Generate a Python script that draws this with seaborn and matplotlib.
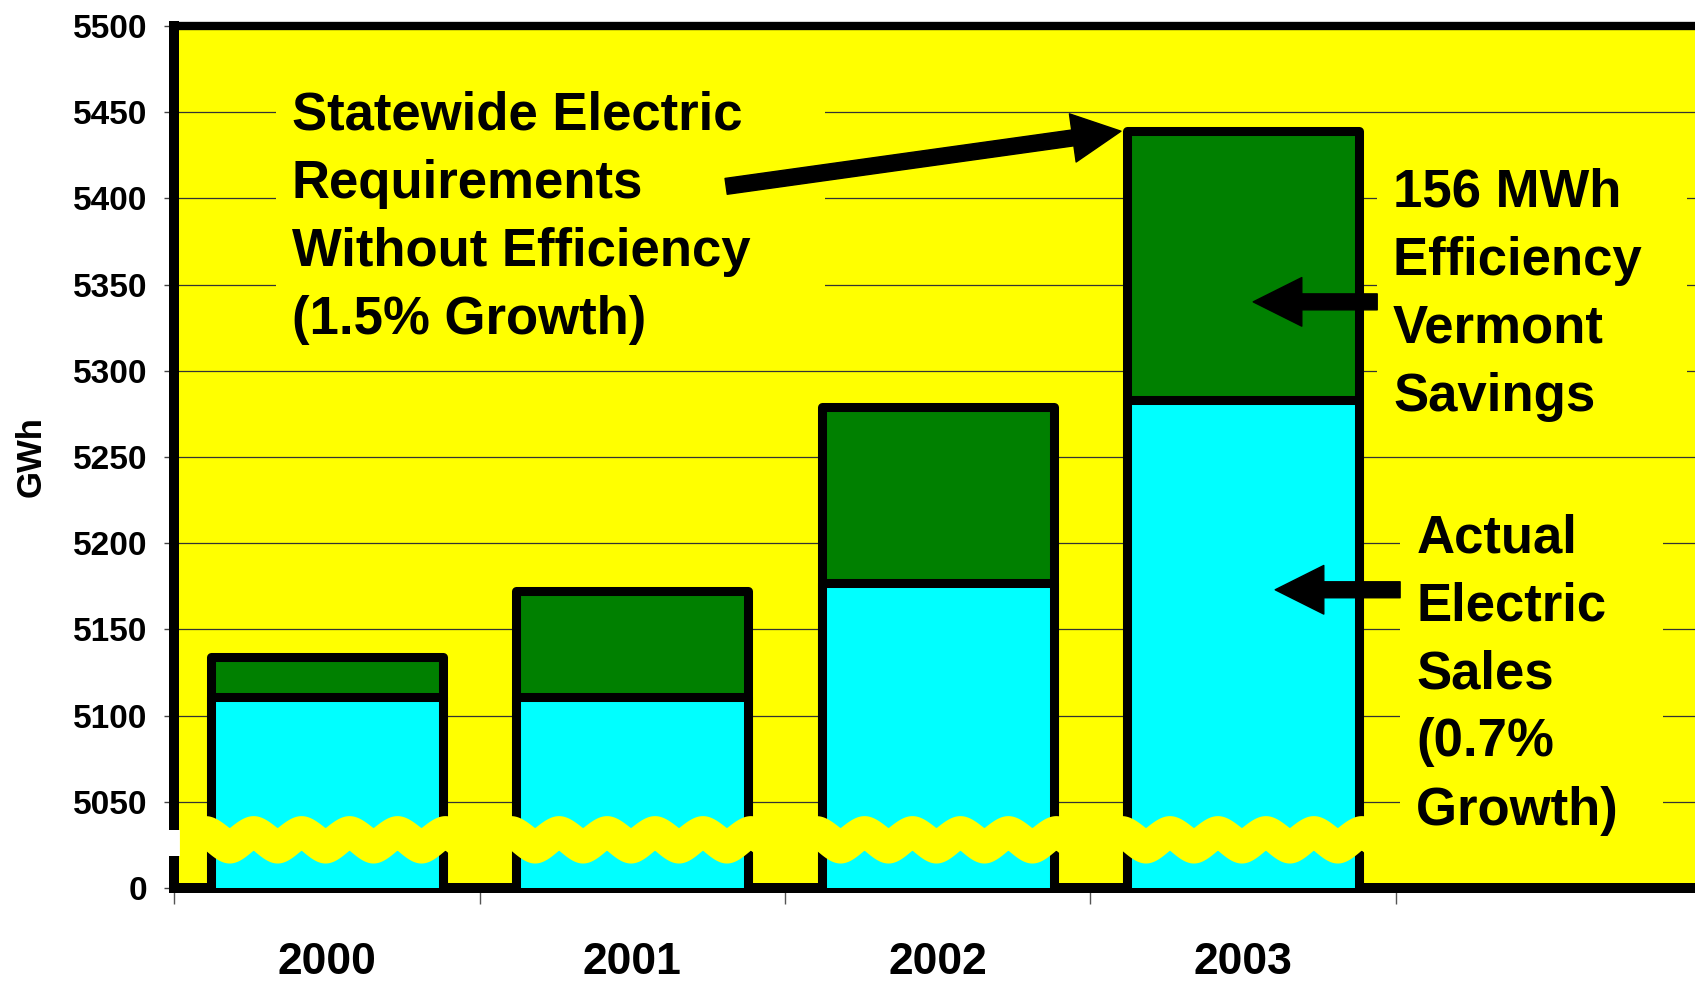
import numpy as np
import matplotlib
matplotlib.use('Agg')
import matplotlib.pyplot as plt
import matplotlib.transforms as mtransforms
import seaborn as sns

plt.rcParams['font.family'] = ['Liberation Sans', 'DejaVu Sans']
plt.rcParams['font.weight'] = 'bold'

# 데이터 (GWh)
years = ['2000', '2001', '2002', '2003']
actual_sales = [5111, 5111, 5177, 5283]
without_eff = [5134, 5172, 5279, 5439]
ytick_vals = [5000, 5050, 5100, 5150, 5200, 5250, 5300, 5350, 5400, 5450, 5500]
ytick_labels = ['0', '5050', '5100', '5150', '5200', '5250', '5300', '5350',
                '5400', '5450', '5500']

YELLOW = '#FFFF00'
bar_w = 0.76

fig = plt.figure(figsize=(16.95, 9.82), dpi=100)
ax = fig.add_axes([0.1027, 0.0957, 0.901, 0.8778])
ax.set_facecolor(YELLOW)

# 막대: 효율 없는 총수요(초록) 위에 실제 판매량(하늘색)
sns.barplot(x=years, y=without_eff, color='#008000', saturation=1,
            edgecolor='black', linewidth=6.5, width=bar_w, ax=ax, zorder=3)
sns.barplot(x=years, y=actual_sales, color='#00FFFF', saturation=1,
            edgecolor='black', linewidth=6.5, width=bar_w, ax=ax, zorder=4)
for p in ax.patches:
    p.set_joinstyle('round')

ax.set_xlim(-0.5, 4.5)
ax.set_ylim(ytick_vals[0], ytick_vals[-1])

# 축 끊김 표시 (물결 띠)
for i in range(len(years)):
    left = i - bar_w / 2 - 0.025
    right = i + bar_w / 2 + 0.025
    xs = np.linspace(left, right, 300)
    th = np.pi * (xs - (i - bar_w / 2 + 0.139)) / 0.157
    top = 5035 + 7 * np.abs(np.cos(th))
    bot = 5014.5 + 7.5 * (1 - np.abs(np.sin(th)))
    ax.fill_between(xs, bot, top, color=YELLOW, lw=0, zorder=5)

trans = mtransforms.blended_transform_factory(ax.transAxes, ax.transData)
ax.plot([0, 0], [5018.6, 5033.6], color='white', lw=8.5, transform=trans,
        clip_on=False, zorder=10, solid_capstyle='butt')

# 격자, 축
ax.set_axisbelow(True)
ax.yaxis.grid(True, color='#333333', lw=0.9)
ax.xaxis.grid(False)

ax.set_yticks(ytick_vals)
ax.set_yticklabels(ytick_labels, fontsize=24, fontweight='bold')
ax.tick_params(axis='y', length=7, width=1, color='#444444', pad=12)

ax.set_xticks(np.arange(-0.5, 4.6, 1))
ax.set_xticklabels([])
ax.set_xticks(range(len(years)), minor=True)
ax.set_xticklabels(years, minor=True, fontsize=32, fontweight='bold')
ax.tick_params(axis='x', which='major', length=11.5, width=1, color='#555555')
ax.tick_params(axis='x', which='minor', length=0, pad=39)

ax.set_xlabel('')
ax.set_ylabel('GWh', fontsize=25, fontweight='bold')
ax.yaxis.set_label_coords(-0.083, 0.5)

for side in ['left', 'bottom']:
    ax.spines[side].set_linewidth(7.2)
ax.spines['top'].set_linewidth(6)
ax.spines['right'].set_visible(False)

# 주석
box = dict(boxstyle='square,pad=0.3', fc=YELLOW, ec='none')
ax.text(-0.114, 5462.5, 'Statewide Electric\nRequirements\nWithout Efficiency    \n(1.5% Growth)',
        fontsize=38, fontweight='bold', va='top', ha='left', linespacing=1.465,
        bbox=box, zorder=6)
ax.text(3.491, 5418, '156 MWh\nEfficiency  \nVermont\nSavings',
        fontsize=38, fontweight='bold', va='top', ha='left', linespacing=1.465,
        bbox=box, zorder=6)
ax.text(3.567, 5217.5, 'Actual\nElectric\nSales\n(0.7%\nGrowth)  ',
        fontsize=38, fontweight='bold', va='top', ha='left', linespacing=1.465,
        bbox=box, zorder=6)

arrow = dict(arrowstyle='simple,head_length=35,head_width=35,tail_width=11.5',
             mutation_scale=1, color='black', shrinkA=0, shrinkB=0)
ax.annotate('', xy=(3 - bar_w / 2 - 0.02, without_eff[3]), xytext=(1.3075, 5407),
            arrowprops=arrow, zorder=8)
ax.annotate('', xy=(3.033, 5340), xytext=(3.439, 5340), arrowprops=arrow, zorder=8)
ax.annotate('', xy=(3.105, 5173), xytext=(3.514, 5173), arrowprops=arrow, zorder=8)

fig.savefig('out.png', dpi=100)
